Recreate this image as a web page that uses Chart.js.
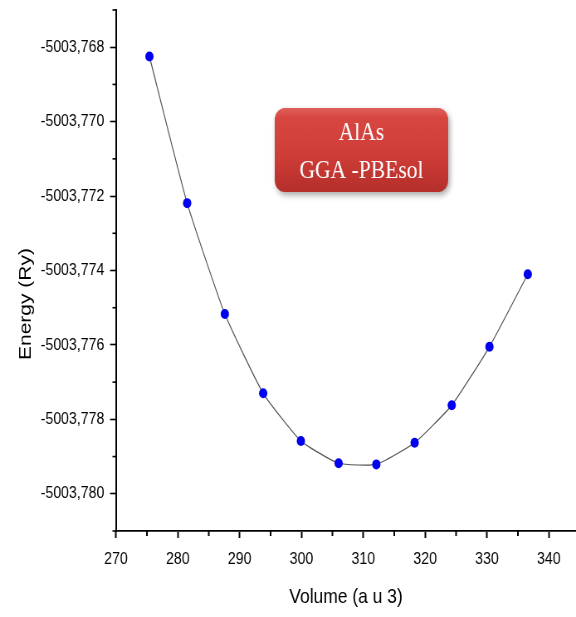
<!DOCTYPE html>
<html>
<head>
<meta charset="utf-8">
<script src="https://cdn.jsdelivr.net/npm/chart.js@4.4.1/dist/chart.umd.min.js"></script>
<style>
  html, body { margin: 0; padding: 0; background: #fff; overflow: hidden; }
  /* the plot is laid out on a wider canvas and squeezed horizontally */
  #wrap { width: 694px; height: 617px; transform: scaleX(0.82997); transform-origin: 0 0; }
  canvas { display: block; }
</style>
</head>
<body>
<div id="wrap"><canvas id="c" width="694" height="617"></canvas></div>
<script>
// E(V) curve of AlAs, GGA-PBEsol
const volumes  = [275.4, 281.5, 287.6, 293.8, 299.9, 306.0, 312.1, 318.3, 324.3, 330.4, 336.6];
const energies = [-5003.76825, -5003.77219, -5003.77517, -5003.77730, -5003.77858, -5003.77918,
                  -5003.77921, -5003.77863, -5003.77762, -5003.77605, -5003.77410];

// axis ranges and tick steps (labels every other tick)
const xRange = [270, 344.4];
const xStep = 5;
const yRange = [-5003.781, -5003.767];
const yStep = 0.001;

const boxLines = ['AlAs', 'GGA -PBEsol'];
const xTitle = 'Volume (a u 3)';
const yTitle = 'Energy (Ry)';

const SANS = "'Liberation Sans', Arial, sans-serif";

function isMajorX(v) { return Math.round(v) % 10 === 0; }
function isMajorY(v) { return Math.round(Math.abs(v - Math.trunc(v)) * 1000) % 2 === 0; }

function stepTicks(lo, hi, step) {
  const out = [];
  const n = Math.floor((hi - lo) / step + 1e-6);
  for (let k = 0; k <= n; k++) out.push({ value: lo + k * step });
  return out;
}

function noPad(s) { s.paddingTop = 0; s.paddingBottom = 0; s.paddingLeft = 0; s.paddingRight = 0; }

// short minor tick marks + y title + label box
const decor = {
  id: 'decor',
  afterDraw(chart) {
    const ctx = chart.ctx;
    const xs = chart.scales.x, ys = chart.scales.y;
    const area = chart.chartArea;
    ctx.save();
    ctx.strokeStyle = '#000';
    // minor ticks
    ctx.lineWidth = 2;
    xs.ticks.forEach(t => {
      if (isMajorX(t.value)) return;
      const px = xs.getPixelForValue(t.value);
      ctx.beginPath(); ctx.moveTo(px, area.bottom); ctx.lineTo(px, area.bottom + 5); ctx.stroke();
    });
    ctx.lineWidth = 1.6;
    ys.ticks.forEach(t => {
      if (isMajorY(t.value)) return;
      const py = ys.getPixelForValue(t.value);
      ctx.beginPath(); ctx.moveTo(area.left, py); ctx.lineTo(area.left - 4.3, py); ctx.stroke();
    });

    // y axis title
    ctx.fillStyle = '#000';
    ctx.font = '21px ' + SANS;
    ctx.textAlign = 'center';
    ctx.textBaseline = 'middle';
    ctx.translate(31, 304);
    ctx.rotate(-Math.PI / 2);
    ctx.fillText(yTitle, 0, 0);
    ctx.restore();

    // red label box
    const bx = 331, by = 108, bw = 209, bh = 84, r = 12;
    ctx.save();
    ctx.shadowColor = 'rgba(0,0,0,0.35)';
    ctx.shadowBlur = 6;
    ctx.shadowOffsetX = 2;
    ctx.shadowOffsetY = 3;
    const g = ctx.createLinearGradient(0, by, 0, by + bh);
    g.addColorStop(0, '#e0605a');
    g.addColorStop(0.12, '#d74640');
    g.addColorStop(0.6, '#cd3c37');
    g.addColorStop(1, '#b42e2a');
    ctx.fillStyle = g;
    ctx.beginPath();
    ctx.roundRect(bx, by, bw, bh, r);
    ctx.fill();
    ctx.restore();

    ctx.save();
    ctx.fillStyle = '#fff';
    ctx.font = "26px 'Liberation Serif', 'Times New Roman', serif";
    ctx.textAlign = 'center';
    ctx.textBaseline = 'middle';
    ctx.fillText(boxLines[0], bx + bw / 2, 133);
    ctx.fillText(boxLines[1], bx + bw / 2, 171);
    ctx.restore();
  }
};

new Chart(document.getElementById('c'), {
  type: 'scatter',
  data: {
    datasets: [{
      data: volumes.map((v, i) => ({ x: v, y: energies[i] })),
      showLine: true,
      borderColor: '#555',
      borderWidth: 1.2,
      tension: 0.15,
      pointRadius: 5,
      pointHoverRadius: 5,
      pointBackgroundColor: '#0000ee',
      pointBorderColor: '#0000ee',
      pointBorderWidth: 0
    }]
  },
  options: {
    responsive: false,
    animation: false,
    events: [],
    layout: { autoPadding: false, padding: { top: 10, right: 0, bottom: 0, left: 0 } },
    plugins: { legend: { display: false }, tooltip: { enabled: false } },
    scales: {
      x: {
        type: 'linear',
        min: xRange[0], max: xRange[1],
        afterBuildTicks: s => { s.ticks = stepTicks(xRange[0], xRange[1], xStep); },
        afterFit: s => { s.height = 86; noPad(s); },
        border: { display: true, color: '#000', width: 1.8 },
        grid: {
          drawOnChartArea: false, drawTicks: true, tickLength: 7, tickWidth: 2,
          tickColor: c => (c.tick && isMajorX(c.tick.value)) ? '#000' : 'rgba(0,0,0,0)'
        },
        ticks: {
          color: '#000', padding: 11, maxRotation: 0, autoSkip: false,
          font: { family: SANS, size: 17 },
          callback: v => isMajorX(v) ? String(Math.round(v)) : ''
        },
        title: {
          display: true, text: xTitle, color: '#000',
          font: { family: SANS, size: 21 }, padding: { top: 0, bottom: 7 }
        }
      },
      y: {
        type: 'linear',
        min: yRange[0], max: yRange[1],
        afterBuildTicks: s => { s.ticks = stepTicks(yRange[0], yRange[1], yStep); },
        afterFit: s => { s.width = 139.8; noPad(s); },
        border: { display: true, color: '#000', width: 2 },
        grid: {
          drawOnChartArea: false, drawTicks: true, tickLength: 7.2, tickWidth: 1.6,
          tickColor: c => (c.tick && isMajorY(c.tick.value)) ? '#000' : 'rgba(0,0,0,0)'
        },
        ticks: {
          color: '#000', padding: 7, autoSkip: false,
          font: { family: SANS, size: 17 },
          callback: v => isMajorY(v) ? v.toFixed(3).replace('.', ',') : ''
        },
        title: { display: false }
      }
    }
  },
  plugins: [decor]
});
</script>
</body>
</html>
